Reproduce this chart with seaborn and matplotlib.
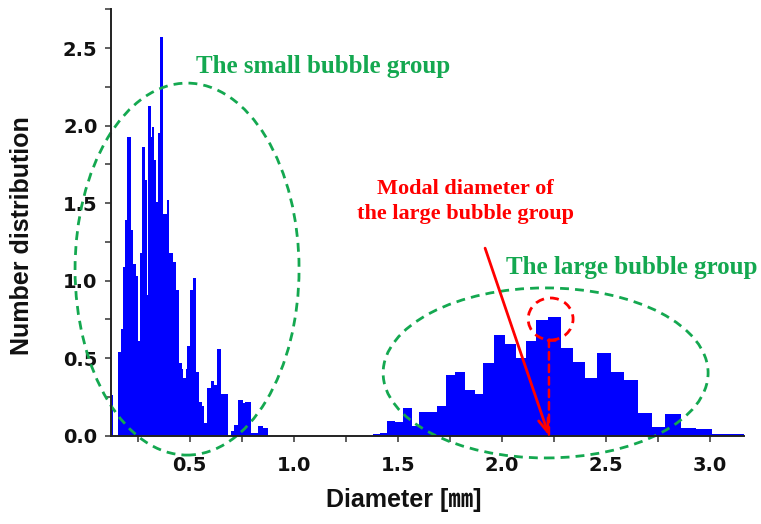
import numpy as np
import pandas as pd
import matplotlib
matplotlib.use("Agg")
import matplotlib.pyplot as plt
from matplotlib.patches import Ellipse
from matplotlib.ticker import MultipleLocator
import seaborn as sns

# Bin edges (mm) and number distribution of the two bubble populations
small_edges = [0.117, 0.130, 0.157, 0.168, 0.178, 0.189, 0.197, 0.216, 0.229, 0.242,
               0.253, 0.261, 0.269, 0.285, 0.293, 0.301, 0.312, 0.320, 0.328, 0.338,
               0.349, 0.357, 0.370, 0.389, 0.402, 0.418, 0.434, 0.447, 0.461, 0.469,
               0.482, 0.489, 0.501, 0.514, 0.530, 0.546, 0.558, 0.569, 0.582, 0.602,
               0.617, 0.630, 0.649, 0.683, 0.697, 0.713, 0.731, 0.755, 0.766, 0.795,
               0.830, 0.854, 0.878]
small_heights = [0.26, 0.00, 0.54, 0.69, 1.09, 1.39, 1.93, 1.33, 1.11, 1.03,
                 0.61, 1.18, 1.86, 1.65, 0.91, 2.13, 1.93, 1.99, 1.78, 1.51,
                 1.95, 2.57, 1.43, 1.52, 1.18, 1.12, 0.94, 0.47, 0.43, 0.37,
                 0.43, 0.58, 0.94, 1.02, 0.41, 0.22, 0.19, 0.08, 0.31, 0.35,
                 0.33, 0.56, 0.27, 0.00, 0.03, 0.07, 0.23, 0.21, 0.22, 0.02,
                 0.06, 0.05]

large_edges = [1.380, 1.415, 1.447, 1.487, 1.524, 1.567, 1.604, 1.647, 1.687, 1.732,
               1.776, 1.824, 1.872, 1.912, 1.965, 2.016, 2.069, 2.115, 2.165, 2.221,
               2.284, 2.341, 2.401, 2.460, 2.524, 2.588, 2.657, 2.724, 2.787, 2.860,
               2.934, 3.009, 3.165]
large_heights = [0.010, 0.020, 0.095, 0.090, 0.180, 0.065, 0.155, 0.150, 0.190, 0.390,
                 0.410, 0.295, 0.270, 0.470, 0.650, 0.590, 0.500, 0.610, 0.746, 0.763,
                 0.568, 0.475, 0.370, 0.531, 0.409, 0.360, 0.148, 0.058, 0.140, 0.050,
                 0.041, 0.011]

x_ticks = [0.5, 1.0, 1.5, 2.0, 2.5, 3.0]
y_ticks = [0.0, 0.5, 1.0, 1.5, 2.0, 2.5]

modal_diameter = 2.227

small_label = "The small bubble group"
large_label = "The large bubble group"
modal_label = "Modal diameter of\nthe large bubble group"

sns.set_theme(style="ticks")
plt.rcParams["font.family"] = ["Liberation Sans", "Noto Sans CJK JP", "DejaVu Sans"]

fig = plt.figure(figsize=(7.61, 5.24), dpi=100)
ax = fig.add_axes([0.1455, 0.1685, 0.8322, 0.8134])


def bin_frame(edges, heights):
    e = np.asarray(edges)
    return pd.DataFrame({"diameter": (e[:-1] + e[1:]) / 2, "count": heights})


for edges, heights in ((small_edges, small_heights), (large_edges, large_heights)):
    sns.histplot(data=bin_frame(edges, heights), x="diameter", weights="count",
                 bins=edges, color="#0000ff", alpha=1.0, linewidth=0, ax=ax)

ax.set_xlim(0.12, 3.165)
ax.set_ylim(0, 2.75)
ax.set_xticks(x_ticks)
ax.set_xticklabels([f"{v:.1f}" for v in x_ticks])
ax.set_yticks(y_ticks)
ax.set_yticklabels([f"{v:.1f}" for v in y_ticks])
ax.xaxis.set_minor_locator(MultipleLocator(0.25))
ax.yaxis.set_minor_locator(MultipleLocator(0.25))

sns.despine(ax=ax)
for side in ("left", "bottom"):
    ax.spines[side].set_linewidth(1.4)
    ax.spines[side].set_color("#222222")

ax.tick_params(which="both", direction="out", color="#333333", width=1.1)
ax.tick_params(which="major", length=4.5)
ax.tick_params(which="minor", length=4)
ax.tick_params(axis="y", which="major", pad=5)
ax.tick_params(axis="x", which="major", pad=10)
for lab in ax.get_xticklabels() + ax.get_yticklabels():
    lab.set_family(["DejaVu Sans"])
    lab.set_fontsize(14)
    lab.set_fontweight("bold")
    lab.set_color("#111111")

ax.set_xlabel("Diameter [\u339c]", fontsize=18, fontweight="bold", color="#111111")
ax.set_ylabel("Number distribution", fontsize=18, fontweight="bold", color="#111111")
ax.xaxis.label.set_va("center")
ax.yaxis.label.set_va("center")
ax.xaxis.set_label_coords(0.463, -0.151)
ax.yaxis.set_label_coords(-0.140, 0.469)

green = "#14a850"
red = "#ff0000"

# group outlines
ax.add_patch(Ellipse((0.487, 1.075), 1.077, 2.40, fill=False, edgecolor=green,
                     lw=2, ls=(0, (3.2, 2.2)), clip_on=False))
ax.add_patch(Ellipse((2.211, 0.405), 1.5625, 1.097, fill=False, edgecolor=green,
                     lw=2, ls=(0, (3.2, 2.2)), clip_on=False))
ax.add_patch(Ellipse((2.235, 0.753), 0.216, 0.271, fill=False, edgecolor=red,
                     lw=2, ls=(0, (3.2, 2.2)), clip_on=False))

serif = ["Liberation Serif", "DejaVu Serif"]
ax.text(1.141, 2.379, small_label, color=green, fontsize=18, fontweight="bold",
        family=serif, ha="center", va="center")
ax.text(2.627, 1.088, large_label, color=green, fontsize=18, fontweight="bold",
        family=serif, ha="center", va="center", clip_on=False)
ax.text(1.824, 1.51, modal_label, color=red, fontsize=16, fontweight="bold",
        family=serif, ha="center", va="center", linespacing=1.35)

# pointer to the modal diameter
ax.annotate("", xy=(modal_diameter, 0.0), xytext=(1.92, 1.21),
            arrowprops=dict(arrowstyle="->,head_length=0.8,head_width=0.3",
                            color=red, lw=2, shrinkA=0, shrinkB=0))
ax.annotate("", xy=(modal_diameter, 0.0), xytext=(modal_diameter, 0.62),
            arrowprops=dict(arrowstyle="|-|,widthA=0.35,widthB=0.0",
                            color=red, lw=1.8, ls=(0, (3, 2)),
                            shrinkA=0, shrinkB=0))

fig.savefig("out.png", dpi=100)
